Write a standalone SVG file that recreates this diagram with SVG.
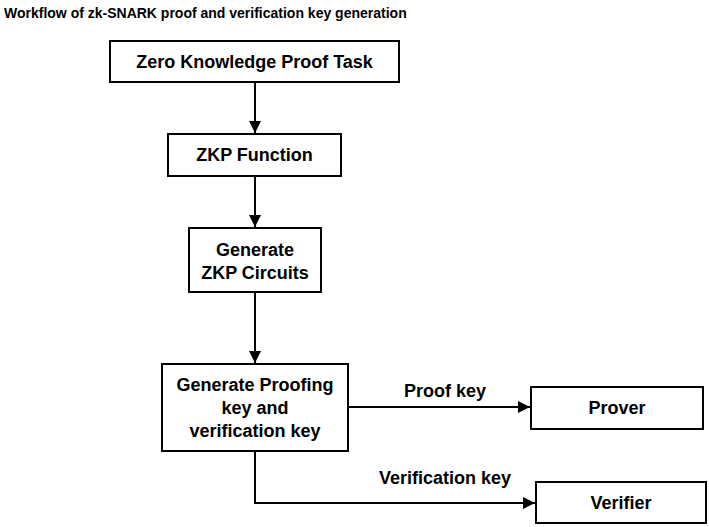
<svg xmlns="http://www.w3.org/2000/svg" width="709" height="527" viewBox="0 0 709 527">
<defs>
<style>
.box{fill:#fff;stroke:#000;stroke-width:2}
.t{font-family:"Liberation Sans",Arial,sans-serif;font-weight:bold;font-size:18px;fill:#000;text-anchor:middle}
.edge{fill:none;stroke:#000;stroke-width:2}
.title{font-family:"Liberation Sans",Arial,sans-serif;font-weight:bold;font-size:14px;fill:#000}
</style>
<marker id="ah" viewBox="0 0 10 10" refX="10" refY="5" markerWidth="12" markerHeight="12" markerUnits="userSpaceOnUse" orient="auto">
<path d="M0,0 L10,5 L0,10 Z" fill="#000"/>
</marker>
</defs>
<rect width="709" height="527" fill="#fff"/>
<text class="title" x="4" y="18">Workflow of zk-SNARK proof and verification key generation</text>
<g id="connectors">
<line class="edge" x1="255" y1="82" x2="255" y2="133" marker-end="url(#ah)"/>
<line class="edge" x1="255" y1="176" x2="255" y2="227" marker-end="url(#ah)"/>
<line class="edge" x1="255" y1="292" x2="255" y2="363" marker-end="url(#ah)"/>
<line class="edge" x1="348" y1="407" x2="530" y2="407" marker-end="url(#ah)"/>
<polyline class="edge" points="255,451 255,503 535,503" marker-end="url(#ah)"/>
<text class="t" x="445" y="397">Proof key</text>
<text class="t" x="445" y="484">Verification key</text>
</g>
<g id="task"><rect class="box" x="110" y="41" width="289" height="41"/><text class="t" x="254.5" y="68">Zero Knowledge Proof Task</text></g>
<g id="func"><rect class="box" x="168" y="134" width="173" height="42"/><text class="t" x="254.5" y="161">ZKP Function</text></g>
<g id="circuits"><rect class="box" x="189" y="228" width="132" height="64"/><text class="t" x="255" y="256">Generate</text><text class="t" x="255" y="279">ZKP Circuits</text></g>
<g id="keygen"><rect class="box" x="162" y="364" width="186" height="87"/><text class="t" x="255" y="391">Generate Proofing</text><text class="t" x="255" y="414">key and</text><text class="t" x="255" y="437">verification key</text></g>
<g id="prover"><rect class="box" x="531" y="387" width="172" height="42"/><text class="t" x="617" y="414">Prover</text></g>
<g id="verifier"><rect class="box" x="536" y="482" width="170" height="41"/><text class="t" x="621" y="509">Verifier</text></g>
</svg>
